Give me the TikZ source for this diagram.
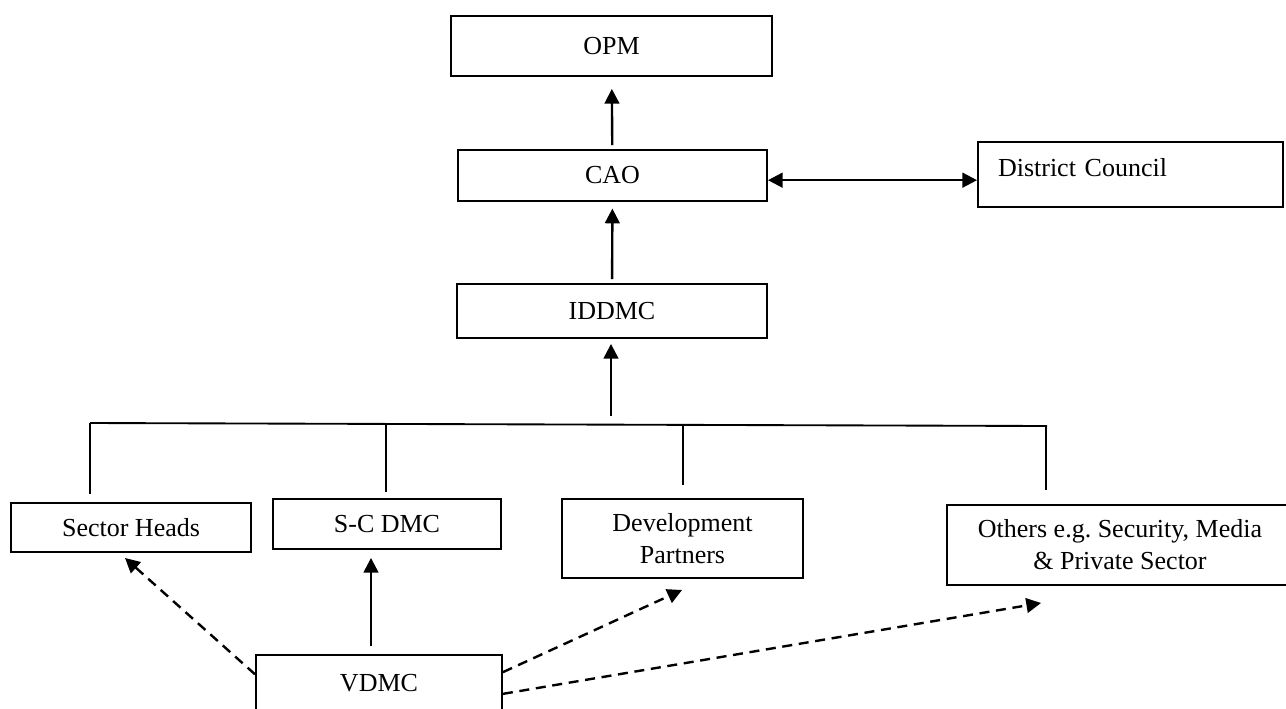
\documentclass[tikz,border=0pt]{standalone}
\usepackage{fontspec}
\setmainfont{Liberation Serif}
\usetikzlibrary{arrows.meta}

\begin{document}
\begin{tikzpicture}
				[x=0.75pt,y=-0.75pt,every node/.style={draw,line width=1.4pt,inner sep=0pt,align=center,font=\fontsize{19.5}{24}\selectfont},
				edge/.style={->,> = {Triangle[length=11pt,width=11pt]},line width=1.8pt}, dedge/.style={edge,dash pattern=on 7.5pt off 5pt}, bus/.style={line width=1.4pt}]
				\useasboundingbox (0,0) rectangle (1286,708);
				\node[minimum width=240.75pt,minimum height=45pt] (opm) at (611.5,46) {OPM};
				\node[minimum width=231.75pt,minimum height=38.25pt] (cao) at (612.5,175.5) {CAO};
				\node[minimum width=228.75pt,minimum height=48.75pt,text width=198.75pt,align=left,text depth=10pt] (dc) at (1130.5,174.5) {District Council};
				\node[minimum width=232.5pt,minimum height=40.5pt] (iddmc) at (612,311) {IDDMC};
				\node[minimum width=180pt,minimum height=36.75pt] (sh) at (131,527.5) {Sector Heads};
				\node[minimum width=171pt,minimum height=37.5pt] (scdmc) at (387,524) {S-C DMC};
				\node[minimum width=180.75pt,minimum height=59.25pt] (dp) at (682.5,538.5) {Development\\Partners};
				\node[minimum width=259.5pt,minimum height=60pt] (oth) at (1120,545) {Others e.g.\ Security, Media\\\& Private Sector};
				\node[minimum width=184.5pt,minimum height=42pt] (vdmc) at (379,683) {VDMC};
				
				\coordinate (b1) at (90,423);
				\coordinate (b2) at (386,424);
				\coordinate (b3) at (683,425);
				\coordinate (b4) at (1046,426);
				\coordinate (mid) at (611,423.5);
				\coordinate (shtip) at (125,558);
				\coordinate (dptip) at (682,590);
				\coordinate (othtip) at (1041,603);
				
				\draw[edge,shorten <=3pt,shorten >=9pt] (cao) -- (opm);
				\draw[edge,<->] ([yshift=-3.5pt]cao.east) -- ([yshift=-3.5pt]cao.east -| dc.west);
				\draw[edge,shorten <=3pt,shorten >=5pt] (iddmc) -- (cao);
				\draw[edge,shorten <=6pt,shorten >=3.75pt] (mid) -- (mid |- iddmc.south);
				
				\draw[bus] (b1) -- ([xshift=0.75pt]b4);
				\draw[bus,shorten >=6pt] (b1) -- (b1 |- sh.north);
				\draw[bus,shorten >=4.5pt] (b2) -- (b2 |- scdmc.north);
				\draw[bus,shorten >=9.75pt] (b3) -- (b3 |- dp.north);
				\draw[bus,shorten >=10.5pt] (b4) -- (b4 |- oth.north);
				
				\draw[edge,shorten <=6pt,shorten >=6pt] ([xshift=-6pt]vdmc.north) -- ([xshift=-6pt]vdmc.north |- scdmc.south);
				\draw[dedge] (vdmc.176) -- (shtip);
				\draw[dedge] (vdmc.5) -- (dptip);
				\draw[dedge] (vdmc.-5) -- (othtip);
				\end{tikzpicture}
\end{document}
